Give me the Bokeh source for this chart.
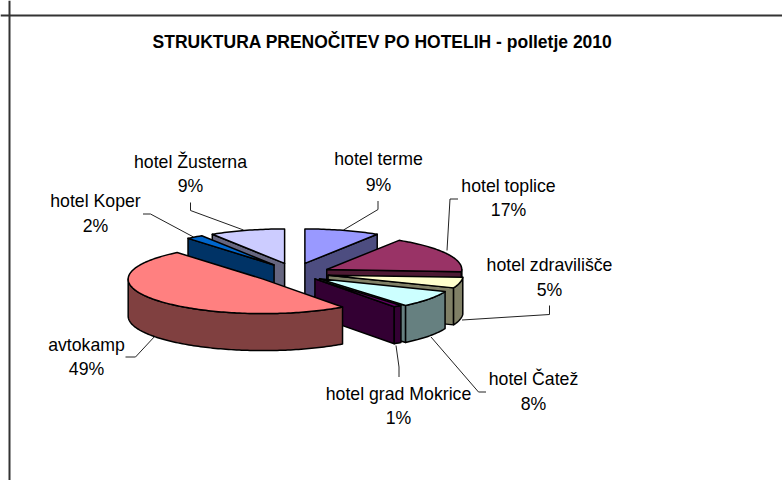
import math
from bokeh.plotting import figure
from bokeh.models import ColumnDataSource, Span
from bokeh.core.properties import value
from bokeh.embed import file_html
from bokeh.resources import INLINE

# ---- data (clockwise from 12 o'clock) ----
names = ["hotel terme", "hotel toplice", "hotel zdravilišče", "hotel Čatež",
         "hotel grad Mokrice", "avtokamp", "hotel Koper", "hotel Žusterna"]
shares = [9, 17, 5, 8, 1, 49, 2, 9]
title_text = "STRUKTURA PRENOČITEV PO HOTELIH - polletje 2010"
top_colors = ["#9999FF", "#993366", "#FFFFCC", "#CCFFFF",
              "#660066", "#FF8080", "#0066CC", "#CCCCFF"]
wall_colors = ["#4D4D80", "#4D1A33", "#808066", "#668080",
               "#330033", "#804040", "#003366", "#666680"]
paint_order = [7, 0, 1, 2, 3, 6, 4, 5]

# ---- layout, in screenshot pixels ----
W, H = 782, 480
CX, CY = 293.5, 272.5
RX, RY = 135.0, 34.5
EXPLODE = 39.0
DEPTH = 37.0
nudge_x = [0, -2, -4, -6, -3, 0, 3, 1.5]
nudge_y = [0, 1, 0, 0, -2, 0, 0, 0]
label_x = [378, 508, 549, 533, 398, 86, 95, 190]
label_y1 = [158, 185, 264, 378, 393, 344, 200, 161]
label_y2 = [184, 209, 289, 403, 417, 368, 225, 185]
leader_xs = [[377.5, 377.5, 343], [457.5, 449.5, 446.5], [549, 549, 461.5], [485.5, 478, 430.5],
             [398.5, 398.5, 395.5], [125, 135, 155], [142.5, 150, 193], [190, 190, 243]]
leader_ys = [[200.5, 209, 229.5], [198.5, 198.5, 250], [305, 314, 319.5], [391.5, 391.5, 336.5],
             [376.5, 366.5, 345], [356.5, 356.5, 335], [213.5, 213.5, 236.5], [202, 210, 229.5]]

p = figure(width=W, height=H, x_range=(0, W), y_range=(H, 0),
           toolbar_location=None, output_backend="svg", min_border=0)
p.axis.visible = False
p.grid.visible = False
p.outline_line_color = None
p.background_fill_color = "white"
p.border_fill_color = "white"

p.add_layout(Span(location=15, dimension="width", line_color="#333333", line_width=2))
p.add_layout(Span(location=9, dimension="height", line_color="#333333", line_width=2))

# ---- pie geometry derived from the shares ----
total = sum(shares)
starts, ends = [], []
acc = 0.0
for v in shares:
    starts.append(acc / total * 2 * math.pi)
    acc += v
    ends.append(acc / total * 2 * math.pi)


def rim(c, t):
    return c[0] + RX * math.sin(t), c[1] - RY * math.cos(t)


def arc(c, a, b):
    n = max(2, int((b - a) / 0.02))
    return [rim(c, a + (b - a) * i / n) for i in range(n + 1)]


xs, ys, fills = [], [], []


def add(pts, col):
    xs.append([q[0] for q in pts])
    ys.append([q[1] for q in pts])
    fills.append(col)


for i in paint_order:
    a, b = starts[i], ends[i]
    m = (a + b) / 2
    c = (CX + EXPLODE * math.sin(m) + nudge_x[i],
         CY - EXPLODE * (RY / RX) * math.cos(m) + nudge_y[i])
    down = lambda q: (q[0], q[1] + DEPTH)
    if math.sin(a) < -1e-6:
        e = rim(c, a)
        add([c, e, down(e), down(c)], wall_colors[i])
    if math.sin(b) > 1e-6:
        e = rim(c, b)
        add([c, e, down(e), down(c)], wall_colors[i])
    lo, hi = max(a, math.pi / 2), min(b, 3 * math.pi / 2)
    if hi > lo:
        front = arc(c, lo, hi)
        add(front + [down(q) for q in reversed(front)], wall_colors[i])
    add([c] + arc(c, a, b), top_colors[i])

p.multi_line(leader_xs, leader_ys, line_color="#222222", line_width=1)
p.patches(xs, ys, fill_color=fills, line_color="black", line_width=1.5, line_join="round")

font = value("Liberation Sans")
src = ColumnDataSource(dict(x=label_x, y=label_y1, t=names))
p.text("x", "y", text="t", source=src, text_font=font, text_font_size="17.7px",
       text_align="center", text_baseline="middle", text_color="black")
src2 = ColumnDataSource(dict(x=label_x, y=label_y2, t=[f"{v}%" for v in shares]))
p.text("x", "y", text="t", source=src2, text_font=font, text_font_size="17.7px",
       text_align="center", text_baseline="middle", text_color="black")
p.text([382], [41], text=[title_text], text_font=font, text_font_size="17.5px",
       text_font_style="bold", text_align="center", text_baseline="middle", text_color="black")

open("out.html", "w").write(file_html(p, INLINE))
